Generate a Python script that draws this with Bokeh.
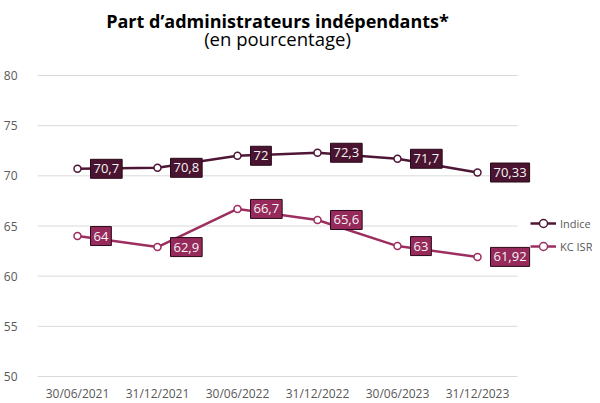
from bokeh.plotting import figure
from bokeh.models import (ColumnDataSource, Range1d, Legend, LegendItem, Label, FixedTicker)
from bokeh.embed import file_html
from bokeh.resources import INLINE

dates = ["30/06/2021", "31/12/2021", "30/06/2022", "31/12/2022", "30/06/2023", "31/12/2023"]
indice = [70.7, 70.8, 72.0, 72.3, 71.7, 70.33]
kc_isr = [64.0, 62.9, 66.7, 65.6, 63.0, 61.92]
indice_labels = ["70,7", "70,8", "72", "72,3", "71,7", "70,33"]
kc_labels = ["64", "62,9", "66,7", "65,6", "63", "61,92"]
y_ticks = [50, 55, 60, 65, 70, 75, 80]
title = "Part d’administrateurs indépendants*"
subtitle = "(en pourcentage)"

C_IND = "#4f1736"
C_IND_BOX = "#4a1430"
C_KC = "#9c2e60"
C_KC_BOX = "#962a5b"
FONT = "Open Sans"
GREY = "#595959"

# layout (pixels)
FRAME_W, FRAME_H = 555, 403
CAT_PX = 80                      # width of one category slot
TOP_PX, BOT_PX = 75, 27          # space above the 80 line / below the 50 line
PLOT_PX = FRAME_H - TOP_PX - BOT_PX
Y_MIN, Y_MAX = min(y_ticks), max(y_ticks)
PX = (Y_MAX - Y_MIN) / PLOT_PX   # data units per pixel

xs = [i + 0.5 for i in range(len(dates))]
src = ColumnDataSource(dict(x=xs, ind=indice, kc=kc_isr))

p = figure(x_range=Range1d(0, FRAME_W / CAT_PX),
           y_range=Range1d(Y_MIN - BOT_PX * PX, Y_MAX + TOP_PX * PX),
           frame_width=FRAME_W, frame_height=FRAME_H,
           output_backend="svg", toolbar_location=None,
           min_border_left=0, min_border_right=0, min_border_top=0,
           min_border_bottom=0, outline_line_color=None)

p.xgrid.grid_line_color = None
p.ygrid.grid_line_color = None
p.xaxis.visible = False
p.segment(x0=0, x1=len(dates), y0=y_ticks, y1=y_ticks,
          line_color="#d9d9d9", line_width=1)

p.yaxis.ticker = FixedTicker(ticks=y_ticks)
p.yaxis.axis_line_color = None
p.yaxis.major_tick_line_color = None
p.yaxis.minor_tick_line_color = None
p.yaxis.major_label_text_color = GREY
p.yaxis.major_label_text_font = FONT
p.yaxis.major_label_text_font_size = "12px"
p.yaxis.major_label_standoff = 14

# category labels under the 50 line
for x, d in zip(xs, dates):
    p.add_layout(Label(x=x, y=Y_MIN - 17 * PX, text=d, text_align="center",
                       text_baseline="middle", text_color=GREY, text_font=FONT,
                       text_font_size="12px"))

l1 = p.line("x", "ind", source=src, line_color=C_IND, line_width=2.5)
m1 = p.scatter("x", "ind", source=src, size=7, fill_color="white",
               line_color=C_IND, line_width=1.5)
l2 = p.line("x", "kc", source=src, line_color=C_KC, line_width=2.5)
m2 = p.scatter("x", "kc", source=src, size=7, fill_color="white",
               line_color=C_KC, line_width=1.5)

for vals, labs, fill in ((indice, indice_labels, C_IND_BOX), (kc_isr, kc_labels, C_KC_BOX)):
    for x, v, t in zip(xs, vals, labs):
        p.add_layout(Label(x=x, y=v, text=t, x_offset=13, y_offset=0,
                           text_align="left", text_baseline="middle",
                           text_color="#f4f4f4", text_font=FONT,
                           text_font_size="13px", background_fill_color=fill,
                           border_line_color="#2a0a1a", border_line_width=1,
                           padding=(3, 5)))

# titles, centred over the category area
cx = len(dates) / 2
p.add_layout(Label(x=cx, y=Y_MAX + 55 * PX, text=title,
                   text_align="center", text_baseline="middle",
                   text_font=FONT, text_font_size="18px",
                   text_font_style="bold", text_color="#000000"))
p.add_layout(Label(x=cx, y=Y_MAX + 37 * PX, text=subtitle,
                   text_align="center", text_baseline="middle",
                   text_font=FONT, text_font_size="18.5px",
                   text_font_style="normal", text_color="#000000"))

legend = Legend(items=[LegendItem(label="Indice", renderers=[l1, m1]),
                       LegendItem(label="KC ISR", renderers=[l2, m2])],
                location=(493, 147), orientation="vertical",
                glyph_width=26, glyph_height=20, label_height=20, spacing=3,
                padding=0, margin=0, label_standoff=4,
                label_text_font=FONT, label_text_font_size="11px",
                label_text_color=GREY, border_line_color=None,
                background_fill_alpha=0)
p.add_layout(legend, "center")

open("out.html", "w").write(file_html(p, INLINE))
